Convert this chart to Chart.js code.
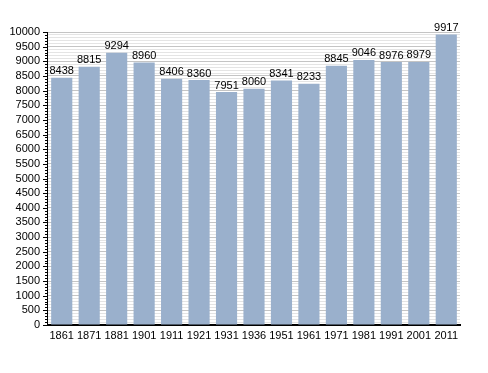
<!DOCTYPE html>
<html>
<head>
<meta charset="UTF-8">
<title>Population</title>
<script src="https://cdn.jsdelivr.net/npm/chart.js"></script>
<style>
  html, body { margin: 0; padding: 0; background: #fff; }
  #wrap { width: 488px; height: 373px; }
</style>
</head>
<body>
<div id="wrap"><canvas id="graf"></canvas></div>
<script>
// dados
const annees = ['1861','1871','1881','1901','1911','1921','1931','1936','1951','1961','1971','1981','1991','2001','2011'];
const population = [8438, 8815, 9294, 8960, 8406, 8360, 7951, 8060, 8341, 8233, 8845, 9046, 8976, 8979, 9917];
const yMin = 0;
const yMax = 10000;
const pasMineur = 100;
const pasMajeur = 500;

const fonte = 'Liberation Sans, Arial, sans-serif';

// étiquettes au-dessus des barres + petites graduations sur l'axe Y
const extras = {
  id: 'extras',
  afterDatasetsDraw(chart) {
    const ctx = chart.ctx;
    const meta = chart.getDatasetMeta(0);
    ctx.save();
    ctx.font = '11px ' + fonte;
    ctx.fillStyle = '#000';
    ctx.textAlign = 'center';
    ctx.textBaseline = 'bottom';
    meta.data.forEach((bar, i) => {
      ctx.fillText(String(population[i]), bar.x, bar.y - 1);
    });
    // axe Y et graduations
    const y = chart.scales.y;
    const x0 = chart.chartArea.left;
    ctx.strokeStyle = '#000';
    ctx.lineWidth = 1;
    ctx.beginPath();
    for (let v = yMin; v <= yMax; v += pasMineur) {
      const py = Math.round(y.getPixelForValue(v)) + 0.5;
      const len = v % pasMajeur === 0 ? 5 : 3;
      ctx.moveTo(x0 - len, py);
      ctx.lineTo(x0, py);
    }
    ctx.stroke();
    ctx.beginPath();
    ctx.moveTo(x0 - 0.5, y.getPixelForValue(yMax));
    ctx.lineTo(x0 - 0.5, y.getPixelForValue(yMin) + 1);
    ctx.stroke();
    ctx.restore();
  }
};

new Chart(document.getElementById('graf'), {
  type: 'bar',
  data: {
    labels: annees,
    datasets: [{
      data: population,
      backgroundColor: '#9ab0cc',
      borderWidth: 0,
      categoryPercentage: 1,
      barPercentage: 0.77
    }]
  },
  options: {
    responsive: true,
    maintainAspectRatio: false,
    animation: false,
    layout: { padding: { left: 0, right: 28, top: 32, bottom: 28 } },
    plugins: { legend: { display: false }, tooltip: { enabled: false } },
    scales: {
      x: {
        grid: { display: false, drawTicks: false },
        border: { color: '#000', width: 2 },
        ticks: { color: '#000', font: { family: fonte, size: 11 }, padding: 4, maxRotation: 0, autoSkip: false },
        afterFit(s) { s.height = 20; }
      },
      y: {
        min: yMin,
        max: yMax,
        grid: {
          drawTicks: false,
          color: c => (c.tick && c.tick.value % pasMajeur === 0) ? '#c4c4c4' : '#e4e4e4'
        },
        border: { display: false },
        ticks: {
          stepSize: pasMineur,
          autoSkip: false,
          color: '#000',
          padding: 8,
          font: { family: fonte, size: 11 },
          callback: v => (v % pasMajeur === 0 ? v : '')
        },
        afterFit(s) { s.width = 48; }
      }
    }
  },
  plugins: [extras]
});
</script>
</body>
</html>
